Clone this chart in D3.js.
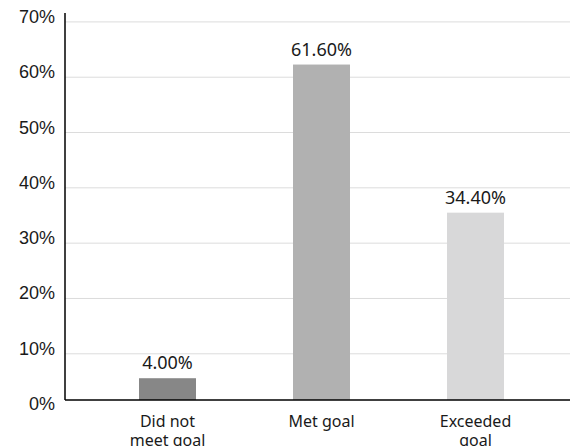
<!DOCTYPE html>
<html>
<head>
<meta charset="utf-8">
<script src="https://cdn.jsdelivr.net/npm/d3@7"></script>
<style>
  html, body { margin: 0; padding: 0; background: #fff; }
  svg { display: block; font-family: "Noto Sans", sans-serif; }
</style>
</head>
<body>
<svg id="chart" width="570" height="446"></svg>
<script>
// ---- data ----
const categories = ["Did not\nmeet goal", "Met goal", "Exceeded\ngoal"];
const values = [4.0, 61.6, 34.4];
const valueLabels = ["4.00%", "61.60%", "34.40%"];
const tickValues = [0, 10, 20, 30, 40, 50, 60, 70];
const tickLabels = ["0%", "10%", "20%", "30%", "40%", "50%", "60%", "70%"];

const palette = ["#878787", "#b1b1b1", "#d8d8d9"];

const svg = d3.select("#chart");
const W = 570, axisX = 65;

// grid / tick scale and bar scale (as in the reference)
const gridY = d3.scaleLinear().domain([0, 70]).range([408.6, 21.4]);
const barY = d3.scaleLinear().domain([0, 70]).range([400, 18.8]);
const x = d3.scaleBand().domain(categories).range([90.5, 552.5])
  .paddingInner(0.63).paddingOuter(0.315);

// gridlines + tick labels
const yAxis = d3.axisLeft(gridY)
  .tickValues(tickValues)
  .tickSize(-(W - axisX))
  .tickPadding(10)
  .tickFormat((d, i) => tickLabels[i]);

const gy = svg.append("g")
  .attr("transform", `translate(${axisX},0)`)
  .call(yAxis);
gy.select(".domain").remove();
gy.selectAll(".tick line")
  .attr("stroke", "#dcdcdc")
  .attr("stroke-width", 1)
  .filter(d => d === 0).remove();
gy.selectAll(".tick text")
  .attr("fill", "#1a1a1a")
  .attr("font-size", 18)
  .attr("dy", "1px");

// bars
svg.append("g").selectAll("rect")
  .data(values)
  .join("rect")
  .attr("x", (d, i) => x(categories[i]))
  .attr("width", x.bandwidth())
  .attr("y", d => barY(d))
  .attr("height", d => barY(0) - barY(d))
  .attr("fill", (d, i) => palette[i]);

// value labels
svg.append("g").selectAll("text")
  .data(values)
  .join("text")
  .attr("x", (d, i) => x(categories[i]) + x.bandwidth() / 2)
  .attr("y", d => barY(d) - 9)
  .attr("text-anchor", "middle")
  .attr("font-size", 18)
  .attr("fill", "#1a1a1a")
  .text((d, i) => valueLabels[i]);

// axes lines
svg.append("line")
  .attr("x1", axisX).attr("x2", axisX)
  .attr("y1", 13).attr("y2", barY(0))
  .attr("stroke", "#000").attr("stroke-width", 1.5);
svg.append("line")
  .attr("x1", axisX).attr("x2", W)
  .attr("y1", barY(0)).attr("y2", barY(0))
  .attr("stroke", "#000").attr("stroke-width", 1.5);

// category labels
const cat = svg.append("g").selectAll("text")
  .data(categories)
  .join("text")
  .attr("x", d => x(d) + x.bandwidth() / 2)
  .attr("y", 427)
  .attr("text-anchor", "middle")
  .attr("font-size", 16)
  .attr("fill", "#1a1a1a");
cat.each(function(d) {
  const lines = d.split("\n");
  const t = d3.select(this);
  lines.forEach((ln, j) => {
    t.append("tspan")
      .attr("x", x(d) + x.bandwidth() / 2)
      .attr("dy", j === 0 ? 0 : 19)
      .text(ln);
  });
});
</script>
</body>
</html>
